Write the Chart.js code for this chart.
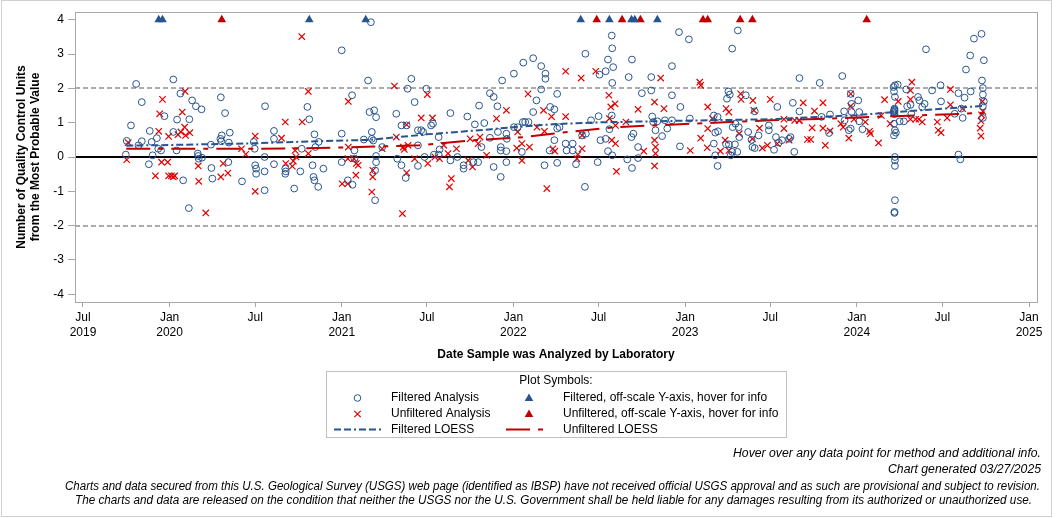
<!DOCTYPE html>
<html><head><meta charset="utf-8">
<script src="https://cdn.jsdelivr.net/npm/chart.js@4.4.1/dist/chart.umd.min.js"></script>
<style>html,body{margin:0;padding:0;background:#fff;}canvas{display:block}</style>
</head><body>
<canvas id="c" width="1056" height="518"></canvas>
<script>
const FONT = "'Liberation Sans', Arial, sans-serif";

const xTickDates = ['2019-07-01','2020-01-01','2020-07-01','2021-01-01','2021-07-01','2022-01-01','2022-07-01','2023-01-01','2023-07-01','2024-01-01','2024-07-01','2025-01-01'];
const xTickLabels = [['Jul','2019'],['Jan','2020'],'Jul',['Jan','2021'],'Jul',['Jan','2022'],'Jul',['Jan','2023'],'Jul',['Jan','2024'],'Jul',['Jan','2025']];
const yTicks = [-4,-3,-2,-1,0,1,2,3,4];
const referenceLines = [2, -2];
const offScaleValue = 4;

const filteredAnalysis = [
['2019-09-30',0.07],['2019-10-02',0.47],['2019-10-11',0.92],['2019-10-22',2.13],['2019-10-27',0.34],['2019-11-03',1.60],['2019-11-03',0.46],['2019-11-18',-0.21],['2019-11-20',0.76],['2019-11-24',0.44],['2019-11-26',0.05],['2019-12-05',0.55],['2019-12-08',0.24],['2019-12-14',0.19],['2019-12-21',1.19],
['2020-01-09',2.26],['2020-01-09',0.73],['2020-01-16',0.19],['2020-01-17',1.09],['2020-01-24',1.85],['2020-01-30',-0.68],['2020-02-11',-1.49],['2020-02-12',1.10],['2020-02-18',1.65],['2020-02-26',1.48],['2020-03-01',0.10],['2020-03-02',0.03],['2020-03-03',-0.05],['2020-03-09',1.39],['2020-03-10',-0.02],['2020-03-29',0.36],['2020-03-30',-0.32],['2020-04-01',-0.63],['2020-04-18',0.53],['2020-04-19',1.74],['2020-04-20',0.46],['2020-04-21',0.63],['2020-04-28',1.28],['2020-05-05',-0.15],['2020-05-06',0.42],['2020-05-08',0.71],['2020-06-03',-0.71],['2020-06-28',0.44],['2020-06-30',0.24],['2020-07-01',-0.24],['2020-07-03',-0.34],['2020-07-03',-0.49],['2020-07-21',0.00],['2020-07-21',-0.42],['2020-07-21',-0.97],['2020-07-22',1.48],['2020-08-10',0.76],['2020-08-10',0.53],['2020-08-10',-0.21],['2020-09-03',-0.34],['2020-09-03',-0.49],['2020-09-04',-0.42],['2020-09-22',-0.92],['2020-10-05',-0.42],['2020-10-08',0.24],['2020-10-20',1.46],['2020-10-24',1.10],['2020-10-31',-0.24],['2020-11-02',-0.58],['2020-11-04',-0.68],['2020-11-04',0.66],['2020-11-06',0.29],['2020-11-12',-0.87],['2020-11-13',0.44],['2020-11-23',-0.34],
['2021-01-01',3.11],['2021-01-01',0.68],['2021-01-01',-0.15],['2021-01-14',-0.68],['2021-01-23',1.80],['2021-01-24',-0.81],['2021-01-28',0.19],['2021-01-28',-0.05],['2021-02-17',0.51],['2021-02-26',2.23],['2021-03-01',1.31],['2021-03-04',3.93],['2021-03-06',0.73],['2021-03-06',0.53],['2021-03-09',0.48],['2021-03-11',1.36],['2021-03-13',-0.39],['2021-03-13',-1.26],['2021-03-15',1.16],['2021-03-15',0.03],['2021-03-15',-0.15],['2021-03-28',0.29],['2021-04-27',1.26],['2021-04-29',-0.05],['2021-05-08',0.92],['2021-05-08',-0.24],['2021-05-17',-0.61],['2021-05-19',0.92],['2021-05-21',1.99],['2021-05-29',2.28],['2021-06-05',1.60],['2021-06-12',0.78],['2021-06-12',0.34],['2021-06-12',-0.26],['2021-06-19',0.78],['2021-06-23',0.73],['2021-06-26',0.00],['2021-06-30',1.99],['2021-07-10',0.92],['2021-07-14',0.97],['2021-07-16',0.07],['2021-07-26',0.58],['2021-07-26',0.07],['2021-07-28',0.22],['2021-08-20',1.28],['2021-08-20',-0.10],['2021-09-04',0.00],['2021-09-17',-0.24],['2021-09-17',-0.34],['2021-09-25',1.18],['2021-10-08',-0.15],['2021-10-11',0.95],['2021-10-18',-0.15],['2021-10-20',1.50],['2021-10-25',0.29],['2021-10-31',0.99],['2021-11-12',0.56],['2021-11-12',1.86],['2021-11-20',-0.29],['2021-11-20',1.75],['2021-11-28',1.48],['2021-11-29',0.73],['2021-12-05',0.29],['2021-12-05',0.19],['2021-12-05',-0.58],['2021-12-08',2.23],['2021-12-17',0.68],['2021-12-17',0.17],['2021-12-17',-0.15],['2021-12-18',0.53],
['2022-01-02',2.43],['2022-01-02',0.87],['2022-01-10',0.87],['2022-01-19',0.15],['2022-01-21',1.02],['2022-01-22',2.75],['2022-01-26',1.02],['2022-02-02',1.02],['2022-02-12',2.88],['2022-02-12',1.31],['2022-02-19',1.65],['2022-03-01',2.65],['2022-03-01',1.97],['2022-03-08',-0.24],['2022-03-10',2.43],['2022-03-10',2.28],['2022-03-19',0.19],['2022-03-20',1.46],['2022-03-29',1.39],['2022-03-29',0.49],['2022-04-04',1.84],['2022-04-04',0.83],['2022-04-04',-0.17],['2022-04-09',0.87],['2022-04-22',0.39],['2022-04-24',0.19],['2022-05-07',0.39],['2022-05-07',0.19],['2022-05-14',-0.21],['2022-05-27',0.63],['2022-06-02',-0.87],['2022-06-03',3.01],['2022-06-04',0.68],['2022-06-15',1.07],['2022-06-29',-0.15],['2022-07-01',1.19],['2022-07-03',2.40],['2022-07-05',0.49],['2022-07-16',2.50],['2022-07-16',0.53],['2022-07-21',2.84],['2022-07-21',0.17],['2022-07-24',0.81],['2022-07-29',3.54],['2022-07-29',1.21],['2022-07-30',3.17],['2022-07-30',2.16],['2022-07-30',0.05],['2022-08-01',2.62],['2022-08-31',-0.07],['2022-09-03',2.33],['2022-09-09',0.58],['2022-09-10',2.84],['2022-09-10',-0.32],['2022-09-13',0.68],['2022-09-23',0.29],['2022-09-23',-0.03],['2022-10-01',1.86],['2022-10-21',2.33],['2022-10-21',1.94],['2022-10-23',1.18],['2022-10-25',1.02],['2022-10-30',0.78],['2022-11-03',1.04],['2022-11-13',0.61],['2022-11-19',1.07],['2022-11-24',0.83],['2022-12-04',2.65],['2022-12-04',1.80],['2022-12-04',1.07],['2022-12-19',3.64],['2022-12-21',0.31],['2022-12-22',1.46],
['2023-01-09',3.43],['2023-01-11',1.12],['2023-03-03',1.21],['2023-03-03',0.39],['2023-03-06',0.71],['2023-03-06',0.05],['2023-03-11',1.17],['2023-03-11',-0.26],['2023-03-12',0.75],['2023-03-29',0.37],['2023-03-31',1.70],['2023-04-03',1.91],['2023-04-04',0.37],['2023-04-06',1.82],['2023-04-08',0.05],['2023-04-11',3.16],['2023-04-11',0.15],['2023-04-12',0.87],['2023-04-17',0.37],['2023-04-18',0.97],['2023-04-22',0.15],['2023-04-23',3.69],['2023-04-25',0.87],['2023-04-26',0.58],['2023-05-10',1.80],['2023-05-15',0.73],['2023-05-22',0.50],['2023-05-24',0.29],['2023-05-29',1.33],['2023-05-29',0.26],['2023-06-06',0.63],['2023-06-28',0.92],['2023-06-28',0.78],['2023-07-09',0.21],['2023-07-13',0.58],['2023-07-16',1.46],['2023-07-19',0.42],['2023-07-26',0.49],['2023-08-10',0.53],['2023-08-13',0.58],['2023-08-18',1.58],['2023-08-21',0.15],['2023-09-01',2.30],['2023-09-01',1.33],['2023-10-14',2.16],['2023-10-18',1.17],['2023-11-03',0.70],['2023-11-05',1.24],['2023-12-01',2.36],['2023-12-05',1.33],['2023-12-06',1.07],['2023-12-15',0.78],['2023-12-19',0.83],['2023-12-19',1.84],['2023-12-21',1.31],['2023-12-21',1.55],
['2024-01-04',1.65],['2024-01-06',1.31],['2024-01-06',1.04],['2024-01-13',0.81],['2024-03-19',2.04],['2024-03-19',1.31],['2024-03-20',1.91],['2024-03-20',0.97],['2024-03-20',0.63],['2024-03-21',1.41],['2024-03-21',1.36],['2024-03-21',1.28],['2024-03-21',1.25],['2024-03-21',1.33],['2024-03-21',1.38],['2024-03-22',2.09],['2024-03-22',1.75],['2024-03-22',0.78],['2024-03-22',0.00],['2024-03-22',-0.10],['2024-03-22',-0.26],['2024-03-22',-1.26],['2024-03-21',-1.60],['2024-03-21',-1.63],['2024-03-24',0.71],['2024-03-28',2.11],['2024-04-01',1.04],['2024-04-10',1.04],['2024-04-15',1.97],['2024-04-17',1.48],['2024-04-24',1.52],['2024-04-26',1.26],['2024-05-10',1.75],['2024-05-13',1.65],['2024-05-19',1.46],['2024-05-24',1.55],['2024-05-27',3.14],['2024-06-09',1.94],['2024-06-27',2.09],['2024-06-28',1.62],['2024-07-27',1.26],['2024-08-04',1.86],['2024-08-04',0.07],['2024-08-08',-0.07],['2024-08-10',1.41],['2024-08-13',1.14],['2024-08-17',1.73],['2024-08-20',2.55],['2024-08-29',2.96],['2024-08-30',1.91],['2024-09-06',3.45],['2024-09-22',3.59],['2024-09-23',2.23],['2024-09-25',2.01],['2024-09-25',1.82],['2024-09-25',1.48],['2024-09-25',1.14],['2024-09-27',2.82],['2024-09-27',1.62]
];

const unfilteredAnalysis = [
['2019-10-02',-0.08],['2019-10-05',0.42],['2019-12-02',-0.55],['2019-12-09',0.75],['2019-12-11',1.26],['2019-12-15',-0.15],['2019-12-17',1.68],['2019-12-28',-0.15],['2019-12-30',0.60],['2019-12-30',-0.55],
['2020-01-05',-0.55],['2020-01-09',-0.58],['2020-01-12',-0.55],['2020-01-19',0.65],['2020-01-25',0.73],['2020-01-28',1.31],['2020-02-02',0.87],['2020-02-03',1.91],['2020-02-04',0.63],['2020-02-13',0.71],['2020-03-02',-0.26],['2020-03-03',-0.71],['2020-03-18',-1.63],['2020-04-19',-0.58],['2020-04-24',-0.19],['2020-05-04',-0.47],['2020-06-02',0.24],['2020-06-11',0.08],['2020-07-01',0.61],['2020-07-01',-1.00],['2020-08-26',0.55],['2020-09-03',1.02],['2020-09-04',-0.19],['2020-09-18',-0.27],['2020-09-20',-0.12],['2020-09-24',0.19],['2020-09-26',0.00],['2020-10-08',3.51],['2020-10-09',1.02],['2020-10-22',1.91],['2020-10-22',0.10],
['2021-01-02',-0.78],['2021-01-14',-0.78],['2021-01-14',-0.05],['2021-01-15',1.62],['2021-01-15',0.29],['2021-01-27',-0.05],['2021-01-31',-0.53],['2021-02-01',-0.19],['2021-02-05',-0.24],['2021-03-06',-1.02],['2021-03-08',-0.39],['2021-03-08',-0.58],['2021-03-28',0.24],['2021-04-23',2.07],['2021-04-27',0.58],['2021-05-10',-1.65],['2021-05-12',0.29],['2021-05-14',0.22],['2021-05-19',0.94],['2021-05-19',-0.46],['2021-05-22',0.34],['2021-06-05',-0.05],['2021-06-19',1.14],['2021-07-02',1.82],['2021-07-03',-0.19],['2021-07-13',1.14],['2021-07-18',0.00],['2021-07-28',-0.05],['2021-08-06',0.34],['2021-08-15',0.10],['2021-08-18',-0.87],['2021-08-22',-0.63],['2021-09-02',0.24],['2021-09-27',-0.10],['2021-10-01',0.53],['2021-10-06',-0.29],['2021-10-18',0.39],['2021-10-22',0.58],['2021-11-05',0.05],['2021-11-26',1.12],['2021-12-17',1.36],
['2022-01-08',0.26],['2022-01-10',0.73],['2022-01-19',0.39],['2022-01-19',-0.10],['2022-02-01',1.84],['2022-02-04',0.29],['2022-02-20',0.87],['2022-03-06',1.36],['2022-03-08',0.75],['2022-03-13',-0.92],['2022-03-23',1.18],['2022-03-26',0.24],['2022-03-30',0.17],['2022-04-22',2.50],['2022-04-22',1.18],['2022-05-16',-0.05],['2022-05-18',0.07],['2022-05-25',2.30],['2022-05-27',0.63],['2022-05-27',0.24],['2022-06-25',2.50],['2022-07-23',1.80],['2022-07-24',1.12],['2022-07-27',1.46],['2022-07-29',0.49],['2022-08-05',1.55],['2022-08-06',0.92],['2022-08-06',0.39],['2022-08-08',-0.42],['2022-08-28',1.02],['2022-09-23',1.39],['2022-10-05',0.17],['2022-10-28',1.60],['2022-10-28',0.49],['2022-10-28',-0.26],['2022-10-30',0.29],['2022-10-30',0.10],['2022-11-10',2.30],['2022-11-17',1.41],
['2023-01-12',0.19],['2023-02-01',2.18],['2023-02-03',2.09],['2023-02-03',0.55],['2023-02-17',0.27],['2023-02-18',1.46],['2023-02-18',0.83],['2023-02-28',1.12],['2023-03-17',0.17],['2023-03-27',0.49],['2023-03-29',1.41],['2023-04-04',1.31],['2023-04-04',0.19],['2023-04-26',0.68],['2023-04-29',1.84],['2023-04-30',1.68],['2023-05-24',0.53],['2023-05-25',1.65],['2023-05-27',1.36],['2023-06-08',0.84],['2023-06-14',0.26],['2023-06-25',0.34],['2023-07-01',1.68],['2023-07-16',0.39],['2023-07-30',1.10],['2023-07-30',0.83],['2023-08-10',0.49],['2023-08-22',1.07],['2023-08-31',1.07],['2023-09-01',1.07],['2023-09-09',1.58],['2023-09-18',0.51],['2023-09-25',0.51],['2023-09-28',0.85],['2023-10-03',1.34],['2023-10-21',1.58],['2023-10-21',0.84],['2023-10-26',0.34],['2023-11-05',0.76],['2023-11-28',0.97],['2023-12-03',0.87],['2023-12-15',0.55],['2023-12-19',1.84],['2023-12-19',1.48],['2023-12-26',1.10],
['2024-01-19',1.02],['2024-01-28',0.75],['2024-01-30',0.68],['2024-02-16',0.41],['2024-02-22',1.21],['2024-02-29',1.67],['2024-03-12',0.97],['2024-03-29',1.62],['2024-04-24',1.94],['2024-04-24',1.68],['2024-04-24',1.10],['2024-04-27',2.18],['2024-05-05',1.10],['2024-05-12',1.10],['2024-05-19',1.02],['2024-06-20',1.02],['2024-06-22',0.78],['2024-06-28',0.71],['2024-07-11',1.14],['2024-07-18',1.97],['2024-07-18',1.52],['2024-08-13',1.41],['2024-09-19',0.84],['2024-09-21',1.05],['2024-09-21',0.61],['2024-09-22',1.23],['2024-09-24',1.62],['2024-09-25',1.33]
];

const filteredOffScaleDates = ['2019-12-09','2019-12-17','2020-10-24','2021-02-21','2022-05-24','2022-07-24','2022-09-09','2022-09-16','2022-11-03'];
const unfilteredOffScaleDates = ['2020-04-21','2022-06-27','2022-08-20','2022-09-28','2023-02-08','2023-02-18','2023-04-28','2023-05-24','2024-01-22'];

const filteredLoess = [
['2019-10-01',0.33],['2020-01-01',0.35],['2020-07-01',0.40],['2020-11-10',0.46],['2021-03-01',0.50],['2021-07-01',0.66],['2021-11-15',0.81],['2022-01-01',0.87],['2022-04-01',0.96],['2022-07-01',1.01],['2023-01-01',1.06],['2023-07-01',1.10],['2023-09-01',1.14],['2024-01-01',1.22],['2024-03-21',1.31],['2024-09-27',1.49]
];
const unfilteredLoess = [
['2019-10-01',0.24],['2020-07-01',0.24],['2020-11-10',0.26],['2021-06-15',0.34],['2021-10-10',0.49],['2022-01-25',0.58],['2022-04-01',0.69],['2022-08-05',0.87],['2022-10-25',0.92],['2023-03-05',1.00],['2023-07-01',1.07],['2023-09-01',1.09],['2024-01-15',1.16],['2024-03-20',1.19],['2024-08-15',1.26],['2024-09-27',1.29]
];

const xRange = ['2019-06-14','2025-01-18'];
const yRange = [-4.227, 4.227];

const BLUE = '#27548f', RED = '#e00000', RED_DARK = '#c00000';

function toDay(s){ const [y,m,d] = s.split('-').map(Number); return Date.UTC(y, m-1, d) / 86400000; }
const pts = arr => arr.map(([d,v]) => ({x: toDay(d), y: v}));

const decor = {
  id: 'decor',
  beforeDatasetsDraw(chart){
    const {ctx, chartArea: a, scales: {x, y}} = chart;
    ctx.save();
    ctx.strokeStyle = '#ababab'; ctx.lineWidth = 2; ctx.setLineDash([5,3]);
    referenceLines.forEach(v => { const py = Math.round(y.getPixelForValue(v)); ctx.beginPath(); ctx.moveTo(a.left, py); ctx.lineTo(a.right, py); ctx.stroke(); });
    ctx.setLineDash([]); ctx.strokeStyle = '#000'; ctx.lineWidth = 2;
    const p0 = Math.round(y.getPixelForValue(0)); ctx.beginPath(); ctx.moveTo(a.left, p0); ctx.lineTo(a.right, p0); ctx.stroke();
    ctx.restore();
  },
  afterDraw(chart){
    const {ctx, chartArea: a} = chart;
    ctx.save();
    ctx.strokeStyle = '#a8a8a8'; ctx.lineWidth = 1;
    ctx.strokeRect(Math.round(a.left)+0.5, Math.round(a.top)+0.5, Math.round(a.right - a.left), Math.round(a.bottom - a.top));
    ctx.strokeStyle = '#d0d0d0';
    ctx.strokeRect(1.5, 0.5, 1050, 516);
    ctx.strokeStyle = '#c0c0c0';
    ctx.strokeRect(326.5, 371.5, 460, 66);
    ctx.fillStyle = '#000'; ctx.textBaseline = 'middle';
    ctx.font = '12px ' + FONT;
    ctx.textAlign = 'center'; ctx.fillText('Plot Symbols:', 556, 381);
    ctx.textAlign = 'left';
    ctx.fillText('Filtered Analysis', 391, 398);
    ctx.fillText('Unfiltered Analysis', 391, 414);
    ctx.fillText('Filtered LOESS', 391, 429.5);
    ctx.fillText('Filtered, off-scale Y-axis, hover for info', 563, 398);
    ctx.fillText('Unfiltered, off-scale Y-axis, hover for info', 563, 414);
    ctx.fillText('Unfiltered LOESS', 563, 429.5);
    ctx.strokeStyle = BLUE; ctx.lineWidth = 1;
    ctx.beginPath(); ctx.arc(357.5, 398, 3.3, 0, Math.PI*2); ctx.stroke();
    ctx.strokeStyle = RED; ctx.lineWidth = 1.2;
    ctx.beginPath(); ctx.moveTo(354.3, 410.8); ctx.lineTo(360.7, 417.2); ctx.moveTo(360.7, 410.8); ctx.lineTo(354.3, 417.2); ctx.stroke();
    const tri = (cx, cy, col) => { ctx.fillStyle = col; ctx.beginPath(); ctx.moveTo(cx, cy-5); ctx.lineTo(cx+4.3, cy+2.5); ctx.lineTo(cx-4.3, cy+2.5); ctx.closePath(); ctx.fill(); };
    tri(529, 398.5, BLUE); tri(529, 414.5, RED_DARK);
    ctx.lineWidth = 2;
    ctx.strokeStyle = BLUE; ctx.setLineDash([7,3,7,3,2,3]);
    ctx.beginPath(); ctx.moveTo(334, 429.5); ctx.lineTo(382, 429.5); ctx.stroke();
    ctx.strokeStyle = RED_DARK; ctx.setLineDash([24,8,5,8]);
    ctx.beginPath(); ctx.moveTo(506, 429.5); ctx.lineTo(543, 429.5); ctx.stroke();
    ctx.setLineDash([]);
    ctx.fillStyle = '#000'; ctx.font = 'italic 12px ' + FONT; ctx.textAlign = 'left';
    const fit = (txt, left, right, yy) => { const w = ctx.measureText(txt).width; ctx.save(); ctx.translate(left, yy); ctx.scale((right-left)/w, 1); ctx.fillText(txt, 0, 0); ctx.restore(); };
    fit('Hover over any data point for method and additional info.', 733, 1041, 454);
    fit('Chart generated 03/27/2025', 888, 1041, 469.5);
    fit('Charts and data secured from this U.S. Geological Survey (USGS) web page (identified as IBSP) have not received official USGS approval and as such are provisional and subject to revision.', 65, 1040, 487);
    fit('The charts and data are released on the condition that neither the USGS nor the U.S. Government shall be held liable for any damages resulting from its authorized or unauthorized use.', 75, 1032, 500.5);
    ctx.restore();
  }
};

new Chart(document.getElementById('c'), {
  type: 'scatter',
  data: { datasets: [
    { label: 'Filtered LOESS', data: pts(filteredLoess), showLine: true, pointRadius: 0, borderColor: BLUE, borderWidth: 2, borderDash: [7,3,7,3,2,3], fill: false },
    { label: 'Unfiltered LOESS', data: pts(unfilteredLoess), showLine: true, pointRadius: 0, borderColor: RED_DARK, borderWidth: 2, borderDash: [24,8,5,8], fill: false },
    { label: 'Filtered, off-scale', data: filteredOffScaleDates.map(d => ({x: toDay(d), y: offScaleValue})), pointStyle: 'triangle', pointRadius: 5, backgroundColor: BLUE, borderColor: BLUE, borderWidth: 0 },
    { label: 'Unfiltered, off-scale', data: unfilteredOffScaleDates.map(d => ({x: toDay(d), y: offScaleValue})), pointStyle: 'triangle', pointRadius: 5, backgroundColor: RED_DARK, borderColor: RED_DARK, borderWidth: 0 },
    { label: 'Filtered Analysis', data: pts(filteredAnalysis), pointStyle: 'circle', pointRadius: 3.4, borderWidth: 1, borderColor: BLUE, backgroundColor: 'rgba(0,0,0,0)' },
    { label: 'Unfiltered Analysis', data: pts(unfilteredAnalysis), pointStyle: 'crossRot', pointRadius: 4.5, borderWidth: 1.2, borderColor: RED, backgroundColor: RED }
  ]},
  options: {
    responsive: false, animation: false, devicePixelRatio: 1,
    layout: { padding: { left: 0, top: 12, right: 19, bottom: 156 } },
    plugins: { legend: { display: false }, tooltip: { enabled: false } },
    scales: {
      x: {
        type: 'linear', min: toDay(xRange[0]), max: toDay(xRange[1]),
        afterBuildTicks: s => { s.ticks = xTickDates.map(d => ({value: toDay(d)})); },
        afterFit: s => { s.height = 60; },
        ticks: { autoSkip: false, maxRotation: 0, padding: 3, color: '#000', font: { family: FONT, size: 12, lineHeight: 1.25 }, callback: (v, i) => xTickLabels[i] },
        grid: { drawOnChartArea: false, drawTicks: true, tickLength: 5, color: '#a8a8a8' },
        border: { display: true, color: '#a8a8a8' },
        title: { display: true, text: 'Date Sample was Analyzed by Laboratory', color: '#000', padding: 0, font: { family: FONT, size: 12, weight: 'bold', lineHeight: 1.2 } }
      },
      y: {
        type: 'linear', min: yRange[0], max: yRange[1],
        afterBuildTicks: s => { s.ticks = yTicks.map(v => ({value: v})); },
        afterFit: s => { s.width = 75; },
        ticks: { padding: 4, color: '#000', font: { family: FONT, size: 12 }, callback: v => String(v) },
        grid: { drawOnChartArea: false, drawTicks: true, tickLength: 7, color: '#a8a8a8' },
        border: { display: true, color: '#a8a8a8' },
        title: { display: true, text: ['Number of Quality Control Units', 'from the Most Probable Value'], color: '#000', padding: { top: 15, bottom: 0 }, font: { family: FONT, size: 12, weight: 'bold', lineHeight: 1.17 } }
      }
    }
  },
  plugins: [decor]
});
</script>
</body></html>
